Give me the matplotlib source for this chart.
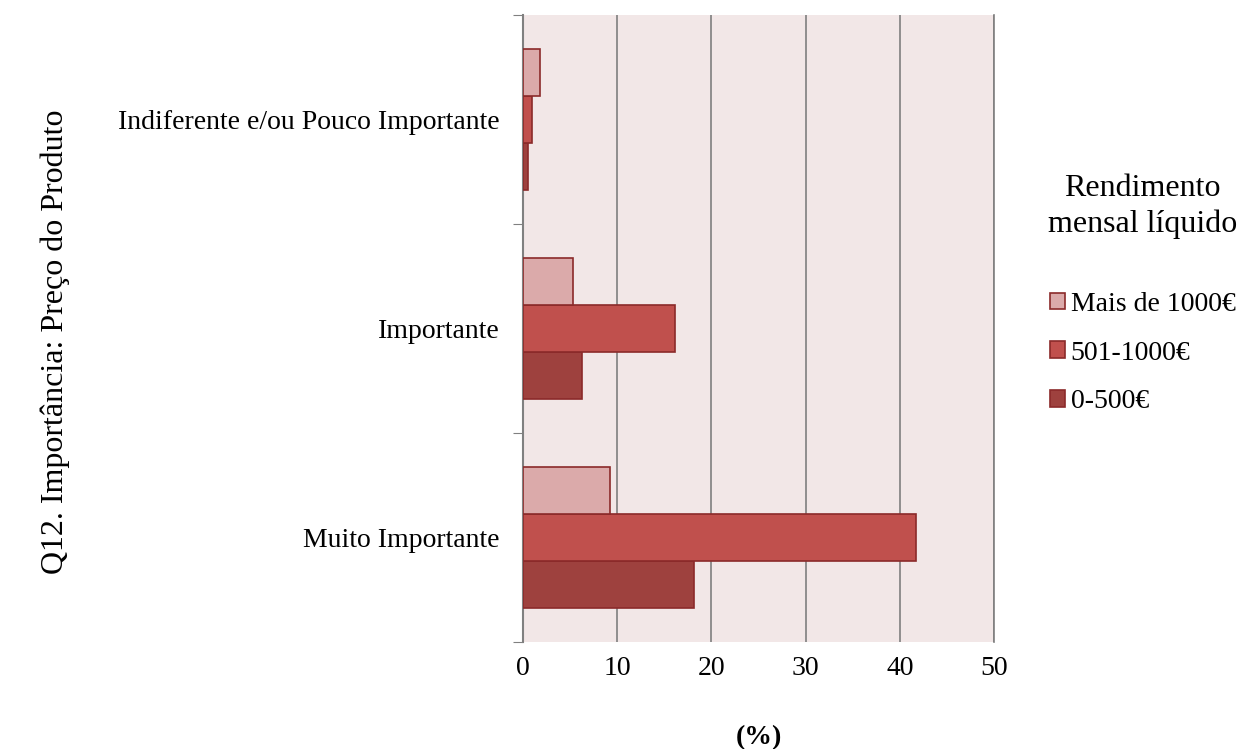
import numpy as np
import matplotlib.pyplot as plt

plt.rcParams['font.family'] = ['Liberation Serif', 'DejaVu Serif']

categorias = ["Muito Importante", "Importante", "Indiferente e/ou Pouco Importante"]
series = ["0-500€", "501-1000€", "Mais de 1000€"]
valores_0_500 = [18.2, 6.3, 0.5]
valores_501_1000 = [41.7, 16.1, 1.0]
valores_mais_1000 = [9.2, 5.3, 1.8]
cores = ["#9E413E", "#C0504D", "#DBAAAA"]

fig = plt.figure(figsize=(12.43, 7.49), dpi=100)
ax = fig.add_axes([523/1243, 1 - 642/749, (994-523)/1243, (642-15)/749])
ax.set_facecolor("#F2E7E7")

y = np.arange(len(categorias))
h = 0.224
dados = [valores_0_500, valores_501_1000, valores_mais_1000]
for i, (vals, nome, cor) in enumerate(zip(dados, series, cores)):
    ax.barh(y + (i - 1) * h, vals, height=h, color=cor, edgecolor="#8B2A2A",
            linewidth=1.2, label=nome, zorder=3)

ax.set_xlim(0, 50)
ax.set_ylim(-0.5, 2.5)
ax.set_xticks(np.arange(0, 51, 10))
ax.set_yticks([-0.5, 0.5, 1.5, 2.5])
ax.set_yticklabels([])
ax.set_yticks(y, minor=True)
ax.set_yticklabels(categorias, minor=True, fontsize=20)
ax.tick_params(axis='y', which='minor', length=0, pad=17)
ax.tick_params(axis='y', which='major', length=7, color="#808080")
ax.tick_params(axis='x', length=0, labelsize=20, pad=10)
ax.grid(axis='x', color="#7F7F7F", linewidth=1.2, zorder=0)
ax.axvline(50, color="#7F7F7F", linewidth=1.2, clip_on=False, zorder=0)
for s in ["top", "right", "bottom"]:
    ax.spines[s].set_visible(False)
ax.spines["left"].set_color("#808080")
ax.spines["left"].set_linewidth(1.5)

ax.set_xlabel("(%)", fontsize=20, fontweight='bold', labelpad=32)
fig.text(55/1243, 1 - 342/749, "Q12. Importância: Preço do Produto", rotation=90,
         fontsize=23, ha='center', va='center')

handles, labels = ax.get_legend_handles_labels()
leg = fig.legend(handles[::-1], labels[::-1], loc='center left',
                 bbox_to_anchor=(1048/1243, 1 - 294/749), frameon=False,
                 borderpad=0, borderaxespad=0,
                 fontsize=20, title="Rendimento\nmensal líquido", title_fontsize=23,
                 handlelength=0.55, handleheight=0.55, handletextpad=0.2,
                 labelspacing=0.85)
leg.get_title().set_multialignment('center')
leg.get_title().set_linespacing(1.3)
leg._legend_box.sep = 38

fig.savefig("out.png", dpi=100)
